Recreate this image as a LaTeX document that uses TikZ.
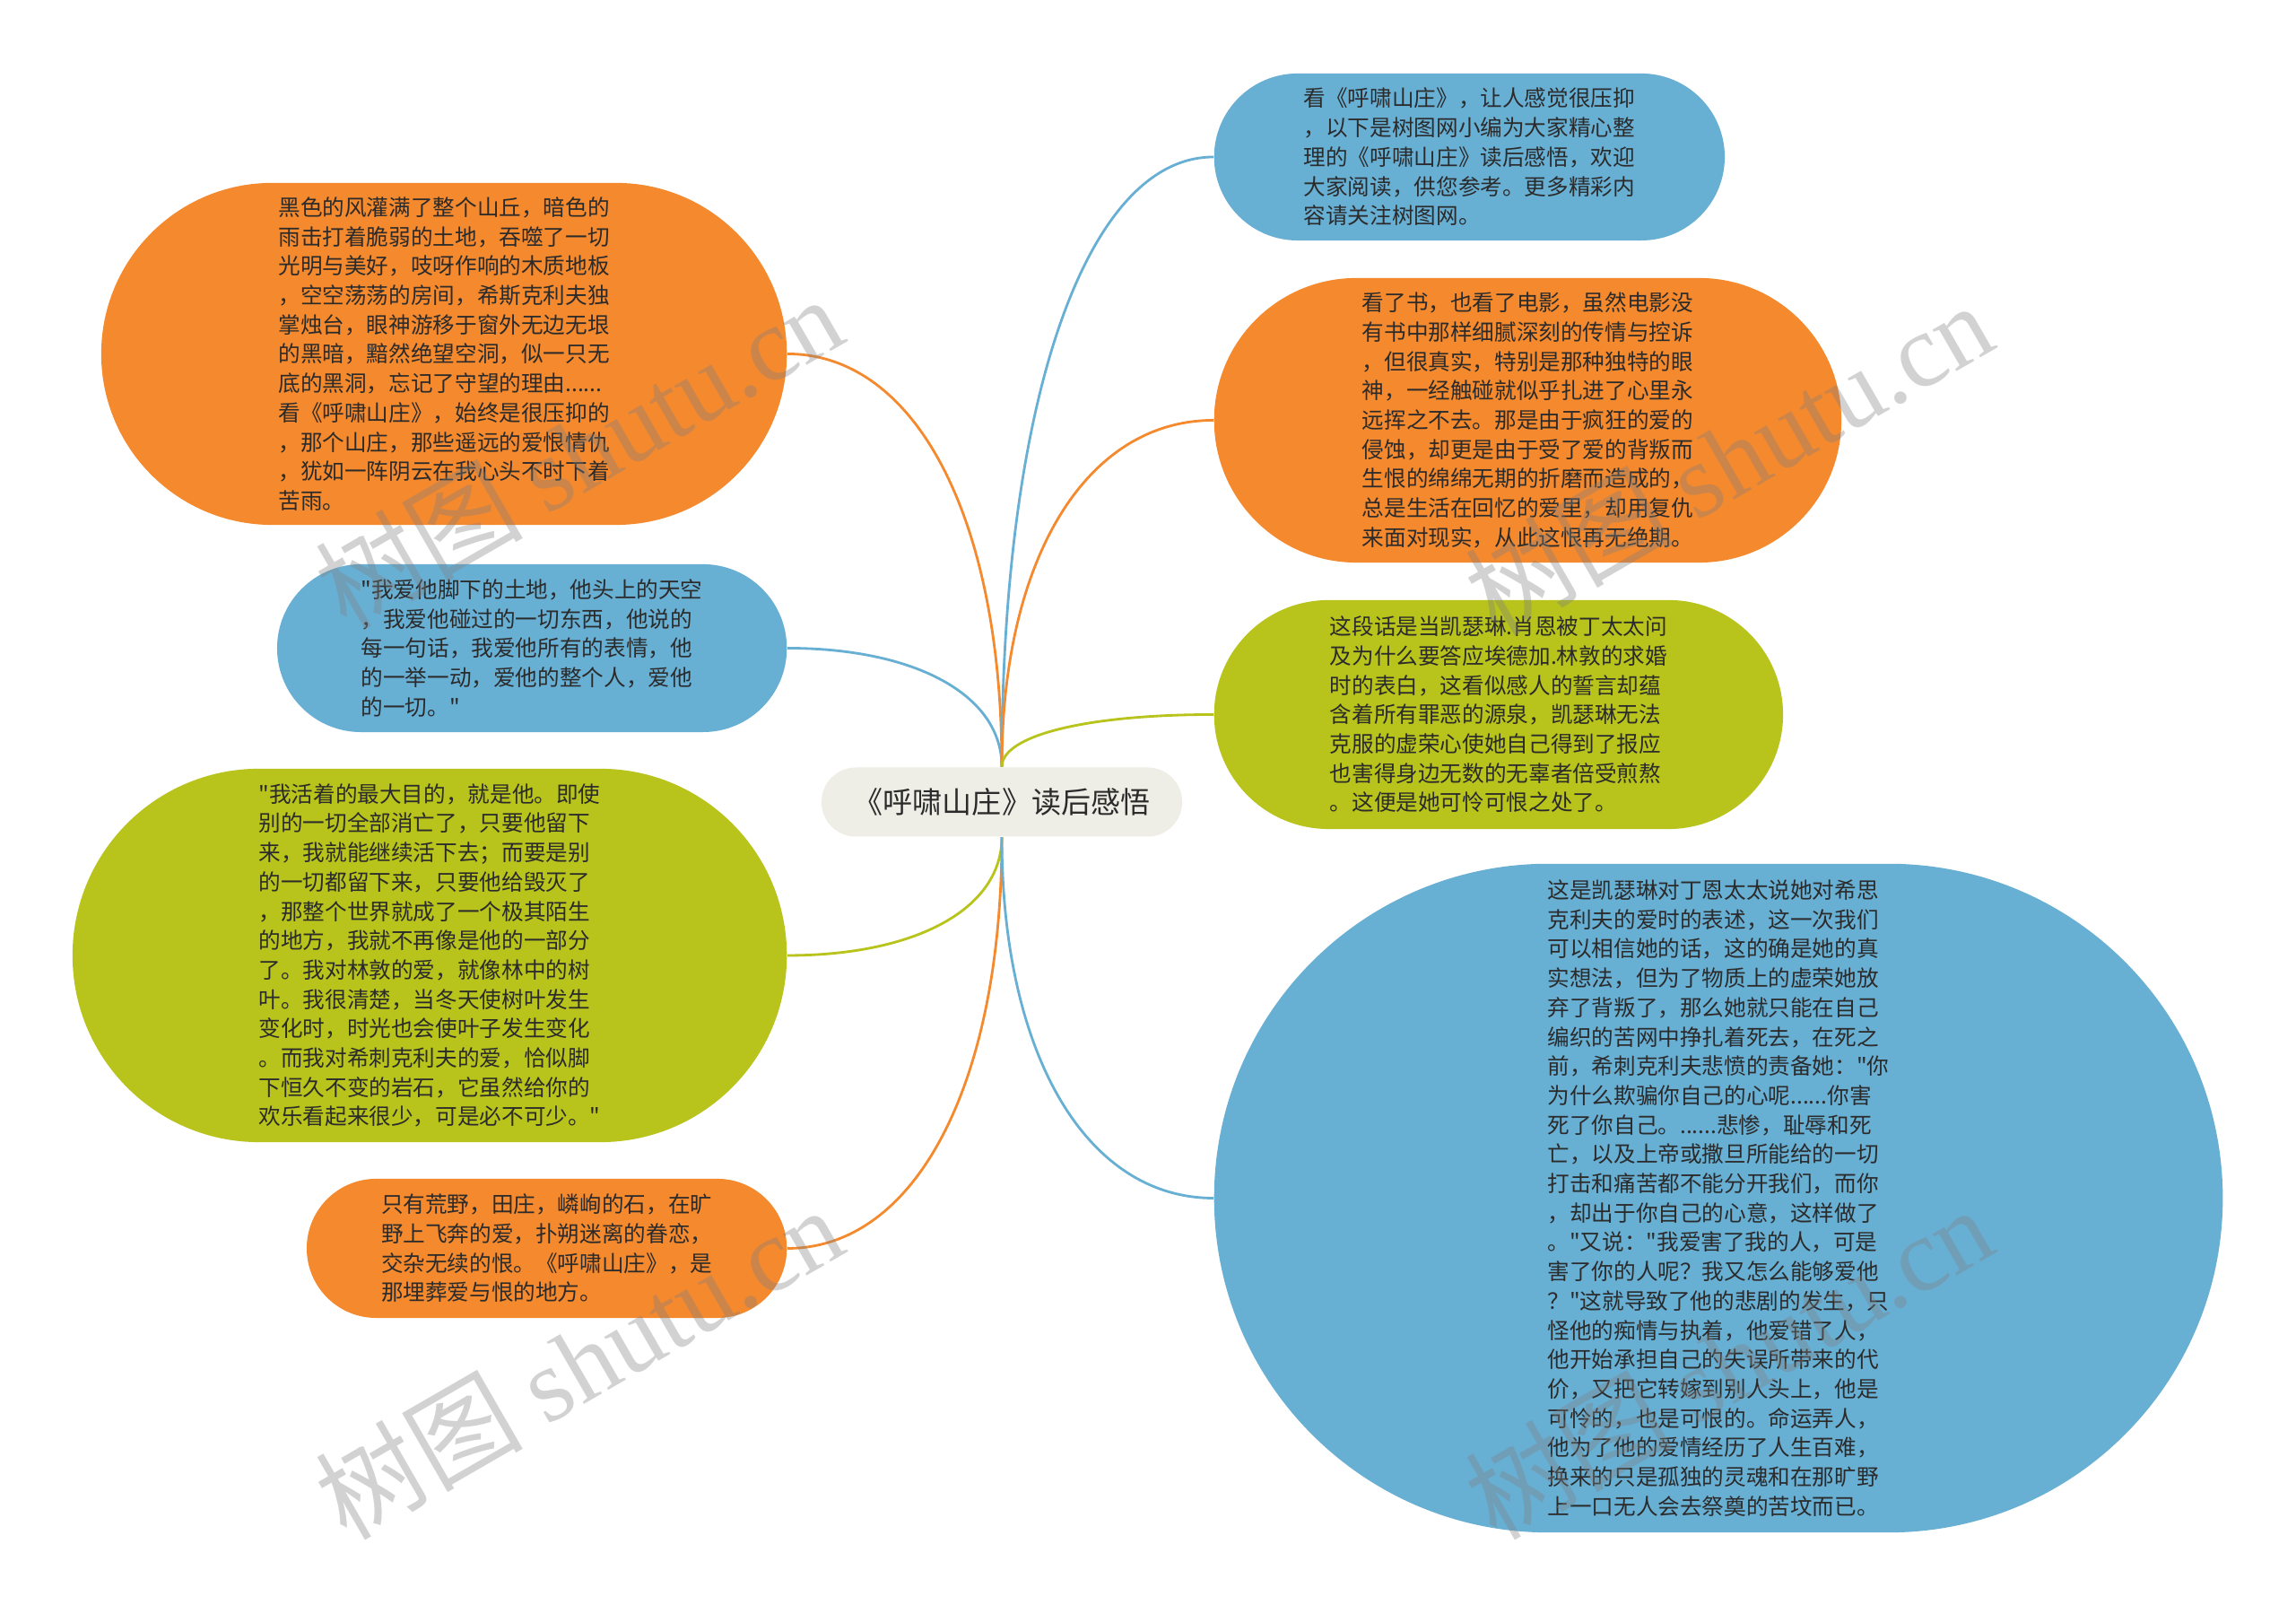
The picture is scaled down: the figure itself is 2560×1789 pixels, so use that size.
\documentclass[tikz,border=0pt]{standalone}
\usepackage{fontspec}
\newfontfamily\cjkfont{Noto Sans CJK SC}
\newfontfamily\wmfont{Liberation Serif}
\usepackage{tikz}
\usetikzlibrary{shapes.misc}

\definecolor{mmorange}{HTML}{F4892E}
\definecolor{mmblue}{HTML}{68AFD4}
\definecolor{mmgreen}{HTML}{B8C31B}
\definecolor{mmgray}{HTML}{EEEEE6}
\definecolor{mmtext}{HTML}{2B2B2B}

\begin{document}
\begin{tikzpicture}[
    x=0.01cm, y=0.01cm,
    bubble/.style={rounded rectangle, draw=none, align=left, text=mmtext, inner sep=0pt, font=\cjkfont\fontsize{7pt}{9.3pt}\selectfont},
    topic/.style={rounded rectangle, fill=mmgray, text=mmtext, minimum width=4.02cm, minimum height=0.77cm, inner sep=0pt, font=\cjkfont\fontsize{9.4pt}{11pt}\selectfont},
    link/.style={line width=0.8pt},
    stamp/.style={text=gray, opacity=0.35, rotate=30, font=\cjkfont\fontsize{33pt}{36pt}\selectfont}
]
\path[fill=white, use as bounding box] (0,0) rectangle (2560,1789);

\node[topic] (ctr) at (1117,895) {《呼啸山庄》读后感悟};

\node[bubble, fill=mmorange, anchor=east, minimum width=7.64cm, minimum height=3.81cm] (l1) at (878,1394.5) {黑色的风灌满了整个山丘，暗色的\\雨击打着脆弱的土地，吞噬了一切\\光明与美好，吱呀作响的木质地板\\，空空荡荡的房间，希斯克利夫独\\掌烛台，眼神游移于窗外无边无垠\\的黑暗，黯然绝望空洞，似一只无\\底的黑洞，忘记了守望的理由......\\看《呼啸山庄》，始终是很压抑的\\，那个山庄，那些遥远的爱恨情仇\\，犹如一阵阴云在我心头不时下着\\苦雨。};
\node[bubble, fill=mmblue, anchor=east, minimum width=5.68cm, minimum height=1.87cm] (l2) at (878,1066.5) {"我爱他脚下的土地，他头上的天空\\，我爱他碰过的一切东西，他说的\\每一句话，我爱他所有的表情，他\\的一举一动，爱他的整个人，爱他\\的一切。"};
\node[bubble, fill=mmgreen, anchor=east, minimum width=7.96cm, minimum height=4.16cm] (l3) at (878,724) {"我活着的最大目的，就是他。即使\\别的一切全部消亡了，只要他留下\\来，我就能继续活下去；而要是别\\的一切都留下来，只要他给毁灭了\\，那整个世界就成了一个极其陌生\\的地方，我就不再像是他的一部分\\了。我对林敦的爱，就像林中的树\\叶。我很清楚，当冬天使树叶发生\\变化时，时光也会使叶子发生变化\\。而我对希刺克利夫的爱，恰似脚\\下恒久不变的岩石，它虽然给你的\\欢乐看起来很少，可是必不可少。"};
\node[bubble, fill=mmorange, anchor=east, minimum width=5.35cm, minimum height=1.55cm] (l4) at (878,397.5) {只有荒野，田庄，嶙峋的石，在旷\\野上飞奔的爱，扑朔迷离的眷恋，\\交杂无续的恨。《呼啸山庄》，是\\那埋葬爱与恨的地方。};

\node[bubble, fill=mmblue, anchor=west, minimum width=5.69cm, minimum height=1.86cm] (r1) at (1353,1614) {看《呼啸山庄》，让人感觉很压抑\\，以下是树图网小编为大家精心整\\理的《呼啸山庄》读后感悟，欢迎\\大家阅读，供您参考。更多精彩内\\容请关注树图网。};
\node[bubble, fill=mmorange, anchor=west, minimum width=6.99cm, minimum height=3.17cm] (r2) at (1353,1320.5) {看了书，也看了电影，虽然电影没\\有书中那样细腻深刻的传情与控诉\\，但很真实，特别是那种独特的眼\\神，一经触碰就似乎扎进了心里永\\远挥之不去。那是由于疯狂的爱的\\侵蚀，却更是由于受了爱的背叛而\\生恨的绵绵无期的折磨而造成的，\\总是生活在回忆的爱里，却用复仇\\来面对现实，从此这恨再无绝期。};
\node[bubble, fill=mmgreen, anchor=west, minimum width=6.34cm, minimum height=2.55cm] (r3) at (1353,992.5) {这段话是当凯瑟琳.肖恩被丁太太问\\及为什么要答应埃德加.林敦的求婚\\时的表白，这看似感人的誓言却蕴\\含着所有罪恶的源泉，凯瑟琳无法\\克服的虚荣心使她自己得到了报应\\也害得身边无数的无辜者倍受煎熬\\。这便是她可怜可恨之处了。};
\node[bubble, fill=mmblue, anchor=west, minimum width=11.24cm, minimum height=7.45cm] (r4) at (1353,453.5) {这是凯瑟琳对丁恩太太说她对希思\\克利夫的爱时的表述，这一次我们\\可以相信她的话，这的确是她的真\\实想法，但为了物质上的虚荣她放\\弃了背叛了，那么她就只能在自己\\编织的苦网中挣扎着死去，在死之\\前，希刺克利夫悲愤的责备她："你\\为什么欺骗你自己的心呢......你害\\死了你自己。......悲惨，耻辱和死\\亡，以及上帝或撒旦所能给的一切\\打击和痛苦都不能分开我们，而你\\，却出于你自己的心意，这样做了\\。"又说："我爱害了我的人，可是\\害了你的人呢？我又怎么能够爱他\\？"这就导致了他的悲剧的发生，只\\怪他的痴情与执着，他爱错了人，\\他开始承担自己的失误所带来的代\\价，又把它转嫁到别人头上，他是\\可怜的，也是可恨的。命运弄人，\\他为了他的爱情经历了人生百难，\\换来的只是孤独的灵魂和在那旷野\\上一口无人会去祭奠的苦坟而已。};

\draw[link, mmorange] (ctr.north) .. controls +(0,277) and +(143,0) .. (l1.east);
\draw[link, mmblue] (ctr.north) .. controls +(0,80) and +(143,0) .. (l2.east);
\draw[link, mmgreen] (ctr.south) .. controls +(0,-80) and +(143,0) .. (l3.east);
\draw[link, mmorange] (ctr.south) .. controls +(0,-275) and +(143,0) .. (l4.east);
\draw[link, mmblue] (ctr.north) .. controls +(0,408) and +(-142,0) .. (r1.west);
\draw[link, mmorange] (ctr.north) .. controls +(0,232) and +(-142,0) .. (r2.west);
\draw[link, mmgreen] (ctr.north) .. controls +(0,35) and +(-142,0) .. (r3.west);
\draw[link, mmblue] (ctr.south) .. controls +(0,-242) and +(-142,0) .. (r4.west);

\node[stamp] (wm1) at (645,1286) {树图 {\wmfont shutu.cn}};
\node[stamp] (wm2) at (645,271) {树图 {\wmfont shutu.cn}};
\node[stamp] (wm3) at (1927,1279) {树图 {\wmfont shutu.cn}};
\node[stamp] (wm4) at (1927,271) {树图 {\wmfont shutu.cn}};
\end{tikzpicture}
\end{document}
